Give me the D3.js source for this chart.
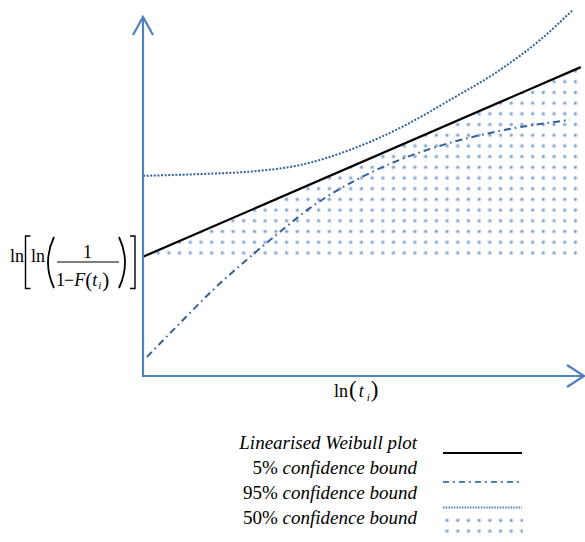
<!DOCTYPE html>
<html>
<head>
<meta charset="utf-8">
<script src="https://cdn.jsdelivr.net/npm/d3@7"></script>
<style>
  html, body { margin: 0; padding: 0; background: #ffffff; }
  svg { display: block; }
  text { font-family: "Liberation Serif", "Times New Roman", serif; fill: #000; }
</style>
</head>
<body>
<svg id="chart"></svg>
<script>
// ───────────────── DATA ─────────────────
// x = ln(t), y = ln[ln(1/(1-F))], arbitrary units
const weibullX = [0, 9.95];
const weibullY = [3.31, 8.58];

const lowerX = [0.09, 0.84, 1.59, 2.32, 3.00, 3.80, 4.93, 5.95, 6.82, 8.11, 9.70];
const lowerY = [0.53, 1.47, 2.39, 3.19, 3.89, 4.67, 5.50, 6.06, 6.42, 6.81, 7.11];

const upperX = [0, 1.30, 2.55, 3.57, 4.70, 5.84, 6.98, 8.11, 9.02, 9.77];
const upperY = [5.56, 5.61, 5.69, 5.86, 6.28, 6.89, 7.67, 8.50, 9.33, 10.17];

const medianBase = 3.33;

const legendLabels = [
  { num: "", txt: "Linearised Weibull  plot" },
  { num: "5% ", txt: "confidence bound" },
  { num: "95% ", txt: "confidence bound" },
  { num: "50% ", txt: "confidence bound" }
];

// ───────────────── COLOR ─────────────────
const AXIS_BLUE = "#4f81bd";
const LINE_BLUE = "#34609b";

// ───────────────── SIZE ─────────────────
const W = 585;
const H = 542;

const svg = d3.select("#chart")
  .attr("width", W)
  .attr("height", H)
  .attr("viewBox", `0 0 ${W} ${H}`);

// ───────────────── SCALE ─────────────────
const xScale = d3.scaleLinear()
  .domain([0, 10])
  .range([143, 583]);

const yScale = d3.scaleLinear()
  .domain([0, 10])
  .range([376, 16]);

// ───────────────── PATTERN ─────────────────
const defs = svg.append("defs");

const pat = defs.append("pattern")
  .attr("id", "dots")
  .attr("patternUnits", "userSpaceOnUse")
  .attr("x", 3)
  .attr("y", 1.5)
  .attr("width", 10.7)
  .attr("height", 10.7);

pat.append("circle")
  .attr("cx", 5.35).attr("cy", 5.35).attr("r", 2.3)
  .attr("fill", AXIS_BLUE).attr("opacity", 0.25);

pat.append("circle")
  .attr("cx", 5.35).attr("cy", 5.35).attr("r", 1.1)
  .attr("fill", AXIS_BLUE).attr("opacity", 0.85);

pat.append("rect")
  .attr("x", 4.6).attr("y", 10.2).attr("width", 1.6).attr("height", 0.6)
  .attr("fill", AXIS_BLUE).attr("opacity", 0.3);

// ───────────────── SHADED 50% ─────────────────
const areaX = d3.range(0, 41).map(i => weibullX[0] + (weibullX[1] - weibullX[0]) * i / 40);
const wLine = d3.scaleLinear().domain(weibullX).range(weibullY);

svg.append("path")
  .datum(areaX)
  .attr("fill", "url(#dots)")
  .attr("d", d3.area()
    .x(d => xScale(d))
    .y0(yScale(medianBase))
    .y1(d => Math.min(yScale(wLine(d)), yScale(medianBase)))
  );

// ───────────────── LINES ─────────────────
const line = d3.line()
  .x(d => xScale(d[0]))
  .y(d => yScale(d[1]))
  .curve(d3.curveMonotoneX);

svg.append("path")
  .datum(d3.zip(upperX, upperY))
  .attr("fill", "none")
  .attr("stroke", LINE_BLUE)
  .attr("stroke-width", 2)
  .attr("stroke-dasharray", "2,1.6")
  .attr("d", line);

svg.append("path")
  .datum(d3.zip(lowerX, lowerY))
  .attr("fill", "none")
  .attr("stroke", LINE_BLUE)
  .attr("stroke-width", 2)
  .attr("stroke-dasharray", "7,4,1.6,4")
  .attr("d", line);

svg.append("path")
  .datum(d3.zip(weibullX, weibullY))
  .attr("fill", "none")
  .attr("stroke", "#000")
  .attr("stroke-width", 2.2)
  .attr("d", line);

// ───────────────── AXES (arrows) ─────────────────
const ax = svg.append("g")
  .attr("stroke", AXIS_BLUE)
  .attr("stroke-width", 2.2)
  .attr("fill", "none");

const x0 = xScale(0), y0 = yScale(0);
const yTop = 17, xEnd = 584;

ax.append("path").attr("d", `M${x0},${y0 + 1}V${yTop}`);
ax.append("path").attr("d", `M${x0 - 10},${yTop + 18}L${x0},${yTop}L${x0 + 10},${yTop + 18}`);
ax.append("path").attr("d", `M${x0 - 1},${y0}H${xEnd}`);
ax.append("path").attr("d", `M${xEnd - 17},${y0 - 11}L${xEnd},${y0}L${xEnd - 17},${y0 + 11}`);

// ───────────────── X LABEL ─────────────────
const xl = svg.append("text")
  .attr("x", 334)
  .attr("y", 397)
  .style("font-size", "18px");
xl.append("tspan").text("ln");
xl.append("tspan").attr("dx", 1).style("font-size", "23px").text("(");
xl.append("tspan").attr("dx", 2).style("font-style", "italic").text("t");
xl.append("tspan").attr("dx", 3).attr("dy", 4).style("font-style", "italic").style("font-size", "11px").text("i");
xl.append("tspan").attr("dx", 1).attr("dy", -4).style("font-size", "23px").text(")");

// ───────────────── Y LABEL ─────────────────
const yl = svg.append("g").style("font-size", "18px");

yl.append("text").attr("x", 10).attr("y", 262).text("ln");
yl.append("path")
  .attr("d", "M30.5,236H25.5V288.5H30.5")
  .attr("stroke", "#000").attr("stroke-width", 1.4).attr("fill", "none");
yl.append("text").attr("x", 31).attr("y", 262).text("ln");
yl.append("path")
  .attr("d", "M54,237Q42,262.5 54,288")
  .attr("stroke", "#000").attr("stroke-width", 1.8).attr("fill", "none");
yl.append("text").attr("x", 83).attr("y", 258).text("1");
yl.append("path")
  .attr("d", "M57,262H119")
  .attr("stroke", "#000").attr("stroke-width", 1);

const den = yl.append("text").attr("x", 56).attr("y", 286);
den.append("tspan").text("1");
den.append("tspan").attr("dx", -1).text("\u2212");
den.append("tspan").attr("dx", 0).style("font-style", "italic").text("F");
den.append("tspan").attr("dx", 0).attr("dy", 1).style("font-size", "21px").text("(");
den.append("tspan").attr("dx", 0).attr("dy", -1).style("font-style", "italic").text("t");
den.append("tspan").attr("dx", 1).attr("dy", 3).style("font-style", "italic").style("font-size", "11px").text("i");
den.append("tspan").attr("dx", 1).attr("dy", -2).style("font-size", "21px").text(")");

yl.append("path")
  .attr("d", "M119,237Q131,262.5 119,288")
  .attr("stroke", "#000").attr("stroke-width", 1.8).attr("fill", "none");
yl.append("path")
  .attr("d", "M130,236H135V288.5H130")
  .attr("stroke", "#000").attr("stroke-width", 1.4).attr("fill", "none");

// ───────────────── LEGEND ─────────────────
const legendY = [449, 474, 499, 524];
const leg = svg.append("g").style("font-size", "19px");

legendLabels.forEach((d, i) => {
  const t = leg.append("text")
    .attr("x", 417)
    .attr("y", legendY[i])
    .attr("text-anchor", "end");
  if (d.num) t.append("tspan").text(d.num);
  t.append("tspan").style("font-style", "italic").text(d.txt);
});

leg.append("path")
  .attr("d", "M443,453H522")
  .attr("stroke", "#000").attr("stroke-width", 2.2);

leg.append("path")
  .attr("d", "M443,482H522")
  .attr("stroke", AXIS_BLUE).attr("stroke-width", 2)
  .attr("stroke-dasharray", "6,4,2,4");

leg.append("path")
  .attr("d", "M443,507.5H522")
  .attr("stroke", AXIS_BLUE).attr("stroke-width", 2)
  .attr("stroke-dasharray", "1.5,1.2");

leg.append("rect")
  .attr("x", 443).attr("y", 516)
  .attr("width", 80).attr("height", 23)
  .attr("fill", "url(#dots)");
</script>
</body>
</html>
